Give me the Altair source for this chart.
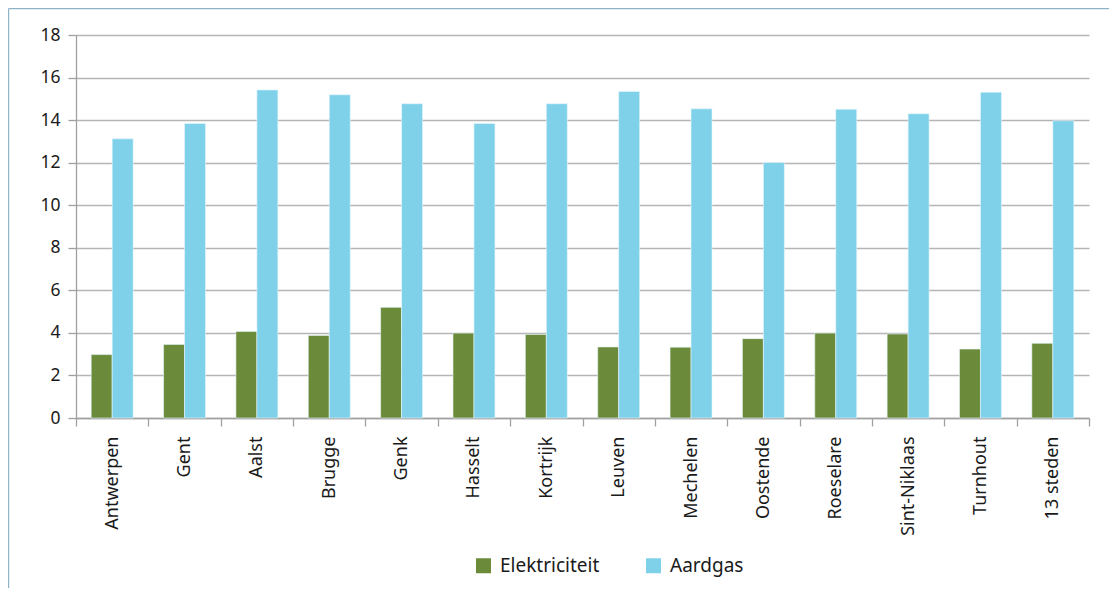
import altair as alt
import pandas as pd

categories = ["Antwerpen", "Gent", "Aalst", "Brugge", "Genk", "Hasselt", "Kortrijk",
              "Leuven", "Mechelen", "Oostende", "Roeselare", "Sint-Niklaas", "Turnhout", "13 steden"]
elektriciteit = [2.98, 3.46, 4.07, 3.88, 5.20, 3.99, 3.93, 3.34, 3.33, 3.73, 3.99, 3.95, 3.24, 3.51]
aardgas = [13.12, 13.84, 15.42, 15.19, 14.77, 13.84, 14.77, 15.35, 14.53, 12.01, 14.51, 14.30, 15.31, 13.97]
series = ["Elektriciteit", "Aardgas"]
colors = ["#6B8B3A", "#7FD1EA"]
y_ticks = [0, 2, 4, 6, 8, 10, 12, 14, 16, 18]

rows = []
for c, e, g in zip(categories, elektriciteit, aardgas):
    rows.append({"stad": c, "reeks": series[0], "waarde": e})
    rows.append({"stad": c, "reeks": series[1], "waarde": g})
df = pd.DataFrame(rows)

FONT = "Noto Sans"
TXT = "#1a1a1a"
W, H = 1013, 383

bars = alt.Chart(df).mark_bar(stroke="#e8f6fb", strokeWidth=0.6).encode(
    x=alt.X("stad:N", sort=categories,
            scale=alt.Scale(paddingInner=0, paddingOuter=0),
            axis=alt.Axis(title=None, labelAngle=-90, tickBand="extent",
                          labelFont=FONT, labelFontSize=18, labelColor=TXT,
                          labelPadding=10, tickSize=8, tickColor="#a0a0a0",
                          domainColor="#a0a0a0", domainWidth=1.3, tickWidth=1.3,
                          grid=False)),
    xOffset=alt.XOffset("reeks:N", sort=series,
                        scale=alt.Scale(paddingInner=0, paddingOuter=0.724)),
    y=alt.Y("waarde:Q", scale=alt.Scale(domain=[0, 18], nice=False),
            axis=alt.Axis(title=None, values=y_ticks, labelFont=FONT, labelFontSize=17.5,
                          labelColor=TXT, labelPadding=8, tickSize=8,
                          tickColor="#a0a0a0", domainColor="#a0a0a0",
                          domainWidth=1.3, tickWidth=1.3,
                          grid=True, gridColor="#b5b5b5", gridWidth=1.3)),
    color=alt.Color("reeks:N", sort=series,
                    scale=alt.Scale(domain=series, range=colors),
                    legend=alt.Legend(title=None, orient="none", legendX=398, legendY=521,
                                      direction="horizontal", columns=2,
                                      symbolType="square", symbolSize=225,
                                      symbolStrokeWidth=0, labelOffset=7,
                                      columnPadding=44, labelFont=FONT,
                                      labelFontSize=19, labelColor=TXT, labelLimit=300)),
)

frame_df = pd.DataFrame({"k": [0]})
frame_left = alt.Chart(frame_df).mark_rule(color="#8fb3c7", strokeWidth=1.2).encode(
    x=alt.value(-67.4), y=alt.value(-26.4), y2=alt.value(H + 190))
frame_top = alt.Chart(frame_df).mark_rule(color="#8fb3c7", strokeWidth=1.2).encode(
    x=alt.value(-67.4), x2=alt.value(W + 40), y=alt.value(-26.4))

chart = alt.layer(bars, frame_left, frame_top).properties(
    width=W, height=H,
    autosize=alt.AutoSizeParams(type="none"),
    padding={"left": 68, "top": 27, "right": 20, "bottom": 170},
    background="white",
).configure_view(stroke=None)

chart.save("out.html", embed_options={"renderer": "svg", "actions": False})
